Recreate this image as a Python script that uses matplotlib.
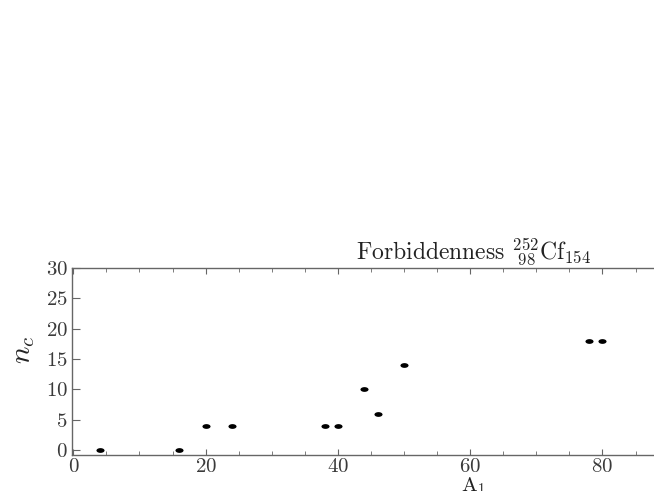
import numpy as np
import matplotlib
matplotlib.use('Agg')
import matplotlib.pyplot as plt
from matplotlib.ticker import MultipleLocator
from matplotlib.path import Path
from matplotlib.transforms import Affine2D

plt.rcParams['font.family'] = 'serif'
plt.rcParams['font.serif'] = ['cmr10']
plt.rcParams['mathtext.fontset'] = 'cm'
plt.rcParams['axes.formatter.use_mathtext'] = True

# fragment mass A1 and forbiddenness n_c
a1 = [4, 16, 20, 24, 38, 40, 44, 46, 50, 78, 80]
nc = [0, 0, 4, 4, 4, 4, 10, 6, 14, 18, 18]
xticks = [0, 20, 40, 60, 80]
yticks = [0, 5, 10, 15, 20, 25, 30]

W, H = 654, 491
fig = plt.figure(figsize=(W / 100, H / 100), dpi=100)
# the axes run on past the right edge of the picture, like the original crop
left, right, top, bottom = 72, 875, 268, 455
ax = fig.add_axes([left / W, (H - bottom) / H, (right - left) / W, (bottom - top) / H])

# the original looks stretched sideways, so the dots are flat ellipses
dot = Path.unit_circle().transformed(Affine2D().scale(1.7, 1.0))
ax.scatter(a1, nc, s=34, marker=dot, color='black', linewidths=0, zorder=3)

ax.set_xlim(-0.2, 121.2)
ax.set_ylim(-0.8, 30)
ax.set_xticks(xticks)
ax.set_yticks(yticks)
ax.xaxis.set_minor_locator(MultipleLocator(5))

gray = '#666666'
for s in ax.spines.values():
    s.set_color(gray)
    s.set_linewidth(1.0)
ax.tick_params(which='both', direction='in', top=True, right=True,
               colors=gray, labelcolor='#3a3a3a', labelsize=15)
ax.tick_params(axis='y', which='major', length=6, pad=3)
ax.tick_params(axis='x', which='major', length=4, pad=2)
ax.tick_params(axis='x', which='minor', length=3)

ax.set_xlabel(r'A$_1$', fontsize=15, color='#222222')
ax.xaxis.set_label_coords(0.5, -0.11)
ax.set_ylabel(r'$n_c$', fontsize=21, color='#222222')
ax.yaxis.set_label_coords(-0.043, 0.56)
ax.set_title(r'Forbiddenness $^{252}_{\ 98}\mathrm{Cf}_{154}$', fontsize=17,
             color='#222222', pad=5)

fig.savefig('out.png', dpi=100)
